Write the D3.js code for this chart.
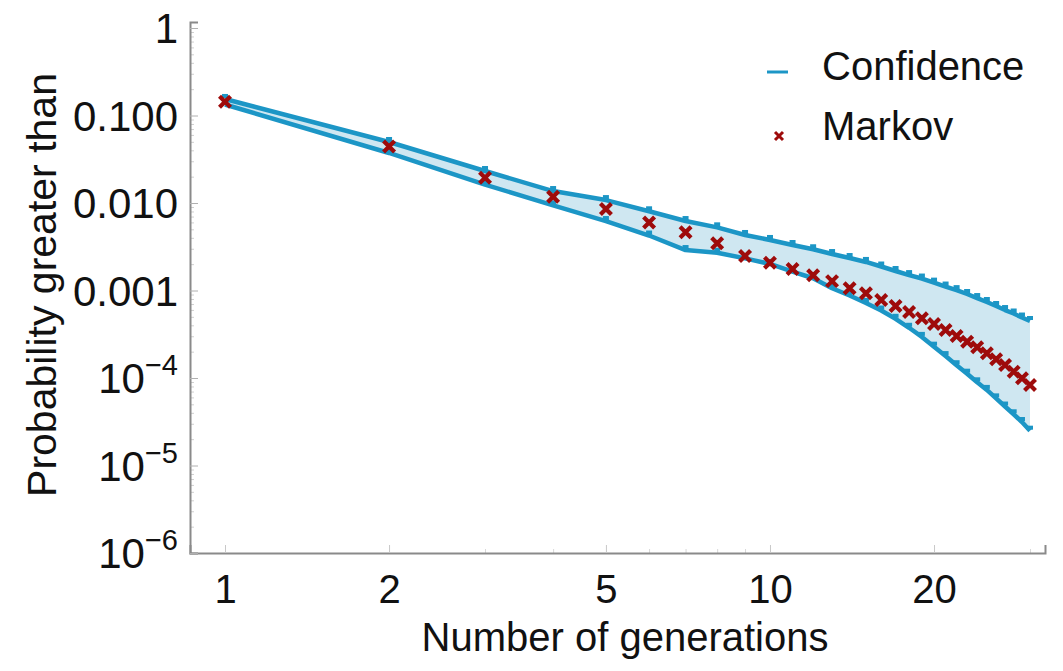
<!DOCTYPE html>
<html>
<head>
<meta charset="utf-8">
<script src="https://cdn.jsdelivr.net/npm/d3@7"></script>
<style>
  html, body { margin: 0; padding: 0; background: #ffffff; }
  svg { display: block; }
  text { font-family: "Liberation Sans", Arial, sans-serif; fill: #111; }
</style>
</head>
<body>
<svg id="chart" width="1063" height="671"></svg>
<script>
// Generations 1..30
const generations = d3.range(1, 31);

// Markov chain estimate of P(X > n)
const markov = [
  0.1438, 0.0442, 0.0194, 0.0118, 0.00854, 0.00598, 0.00462, 0.00346, 0.00248, 0.00208,
  0.00176, 0.00149, 0.00128, 0.00106, 0.000929, 0.000778, 0.000665, 0.000568, 0.000481, 0.000414,
  0.000354, 0.000302, 0.000260, 0.000224, 0.000192, 0.000164, 0.000141, 0.000118, 0.0000993, 0.0000832
];

// Upper edge of the confidence band
const confUpper = [
  0.1545, 0.0498, 0.0232, 0.0137, 0.0108, 0.00804, 0.00622, 0.00527, 0.00431, 0.00378,
  0.00331, 0.00296, 0.00261, 0.00235, 0.00212, 0.00188, 0.00167, 0.00150, 0.00137, 0.00123,
  0.00111, 0.00101, 0.000912, 0.000820, 0.000739, 0.000665, 0.000598, 0.000546, 0.000491, 0.000448
];

// Lower edge of the confidence band
const confLower = [
  0.1336, 0.0373, 0.0162, 0.00941, 0.00622, 0.00425, 0.00290, 0.00270, 0.00233, 0.00201,
  0.00164, 0.00138, 0.00106, 0.000877, 0.000720, 0.000591, 0.000475, 0.000375, 0.000295, 0.000228,
  0.000178, 0.000140, 0.000112, 0.0000893, 0.0000731, 0.0000585, 0.0000472, 0.0000385, 0.0000314, 0.0000250
];

const xTickValues = [1, 2, 5, 10, 20];
const xMinorTicks = [3, 4, 6, 7, 8, 9, 30];
const yTickValues = [1, 0.1, 0.01, 0.001, 1e-4, 1e-5, 1e-6];
const yTickLabels = ["1", "0.100", "0.010", "0.001", ["10", "\u22124"], ["10", "\u22125"], ["10", "\u22126"]];

const legendItems = ["Confidence", "Markov"];

const blue = "#1c96c6";
const bandFill = "#cfe7f1";
const red = "#9e0b0b";
const axisGrey = "#8a8a8a";

const svg = d3.select("#chart");

// Log scales on both axes
const x = d3.scaleLog().domain([1, 30]).range([225, 1030]);
x.domain([x.invert(190), x.invert(1045)]).range([190, 1045]);

const y = d3.scaleLog().domain([1e-6, 1]).range([553, 28]);
y.domain([1e-6, y.invert(22)]).range([553, 22]);

// Axes
const minorY = [];
for (let e = -6; e < 0; e++) for (let m = 2; m <= 9; m++) minorY.push(m * Math.pow(10, e));

const gx = svg.append("g").attr("transform", "translate(0,553)");
gx.call(d3.axisBottom(x).tickValues(xMinorTicks).tickSize(-4).tickFormat(""));
gx.call(g => g.selectAll(".tick line").attr("stroke", "#d8d8d8"));
const gxMajor = svg.append("g").attr("transform", "translate(0,553)");
gxMajor.call(d3.axisBottom(x).tickValues(xTickValues).tickSize(-8).tickPadding(26).tickFormat(d3.format("d")));
gxMajor.selectAll(".tick line").attr("stroke", "#c8c8c8");
gxMajor.selectAll(".tick text").attr("font-size", 40).attr("fill", "#111").attr("dy", "0.71em")
  .attr("y", 22);
gx.select(".domain").remove();
gxMajor.select(".domain").attr("stroke", axisGrey).attr("stroke-width", 2);

const gy = svg.append("g").attr("transform", "translate(190,0)");
gy.call(d3.axisLeft(y).tickValues(minorY).tickSize(-4).tickFormat(""));
gy.selectAll(".tick line").attr("stroke", "#d0d0d0");
gy.select(".domain").remove();
const gyMajor = svg.append("g").attr("transform", "translate(190,0)");
gyMajor.call(d3.axisLeft(y).tickValues(yTickValues).tickSize(-8).tickFormat(""));
gyMajor.selectAll(".tick line").attr("stroke", "#b0b0b0");
gyMajor.select(".domain").attr("stroke", axisGrey).attr("stroke-width", 2);

// Y tick labels (plain and power-of-ten forms)
const yLab = svg.append("g");
yTickValues.forEach((v, i) => {
  const lab = yTickLabels[i];
  const t = yLab.append("text")
    .attr("x", 178)
    .attr("y", y(v))
    .attr("dy", "0.36em")
    .attr("text-anchor", "end")
    .attr("font-size", 42);
  if (Array.isArray(lab)) {
    t.append("tspan").text(lab[0]);
    t.append("tspan").attr("font-size", 29).attr("dy", "-0.62em").text(lab[1]);
  } else {
    t.text(lab);
  }
});

// Confidence band
const band = d3.area()
  .x((d, i) => x(generations[i]))
  .y0((d, i) => y(confLower[i]))
  .y1((d, i) => y(confUpper[i]));

svg.append("path")
  .datum(generations)
  .attr("d", band)
  .attr("fill", bandFill);

const edge = vals => d3.line()
  .x((d, i) => x(generations[i]))
  .y((d, i) => y(vals[i]))(generations);

[confUpper, confLower].forEach(vals => {
  svg.append("path")
    .attr("d", edge(vals))
    .attr("fill", "none")
    .attr("stroke", blue)
    .attr("stroke-width", 4.5)
    .attr("stroke-linejoin", "round");
  // short dash marker at each point
  svg.append("g").selectAll("rect")
    .data(generations)
    .join("rect")
    .attr("x", d => x(d) - 3)
    .attr("y", (d, i) => y(vals[i]) - 5)
    .attr("width", 6)
    .attr("height", 4)
    .attr("fill", blue);
});

// Markov cross markers
const cross = (g, cx, cy, r, w) => {
  g.append("path")
    .attr("d", `M${cx - r},${cy - r}L${cx + r},${cy + r}M${cx - r},${cy + r}L${cx + r},${cy - r}`)
    .attr("stroke", red)
    .attr("stroke-width", w)
    .attr("fill", "none");
};
const gm = svg.append("g");
generations.forEach((n, i) => cross(gm, x(n), y(markov[i]), 5.5, 4.2));

// Legend
const lg = svg.append("g");
lg.append("line")
  .attr("x1", 767).attr("x2", 788).attr("y1", 72).attr("y2", 72)
  .attr("stroke", blue).attr("stroke-width", 3);
lg.append("text").attr("x", 822).attr("y", 80).attr("font-size", 40).text(legendItems[0]);
cross(lg, 779, 136, 4, 3);
lg.append("text").attr("x", 822).attr("y", 140).attr("font-size", 40).text(legendItems[1]);

// Axis titles
svg.append("text")
  .attr("x", 625).attr("y", 651)
  .attr("text-anchor", "middle")
  .attr("font-size", 40)
  .text("Number of generations");

svg.append("text")
  .attr("transform", "translate(56,285) rotate(-90)")
  .attr("text-anchor", "middle")
  .attr("font-size", 41)
  .text("Probability greater than");
</script>
</body>
</html>
